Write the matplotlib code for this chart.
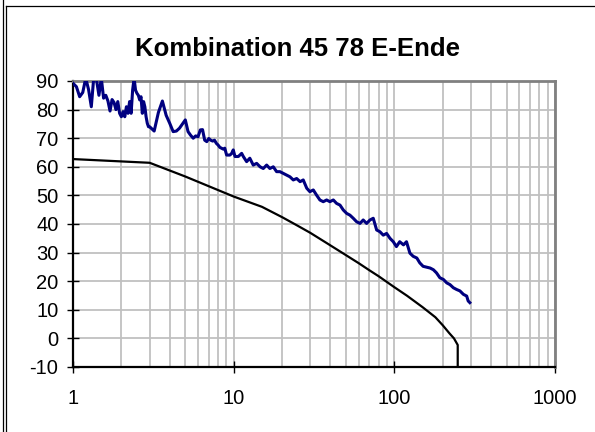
import matplotlib
matplotlib.use("Agg")
import matplotlib.pyplot as plt
from matplotlib.lines import Line2D
from matplotlib.ticker import LogLocator, NullFormatter, FixedLocator

plt.rcParams['font.family'] = ['Liberation Sans', 'DejaVu Sans']
plt.rcParams['axes.unicode_minus'] = False

# measured trace (Messung)
meas_x = [1.00, 1.05, 1.10, 1.15, 1.20, 1.25, 1.30, 1.35, 1.40, 1.45,
          1.50, 1.55, 1.60, 1.65, 1.70, 1.75, 1.80, 1.85, 1.90, 1.95,
          2.00, 2.05, 2.10, 2.15, 2.20, 2.25, 2.30, 2.35, 2.40, 2.45,
          2.50, 2.55, 2.60, 2.65, 2.70, 2.75, 2.80, 2.85, 2.90, 2.95,
          3.00, 3.2, 3.4, 3.6, 3.8, 4.0, 4.2, 4.4, 4.6, 4.8,
          5.0, 5.2, 5.4, 5.6, 5.8, 6.0, 6.2, 6.4, 6.6, 6.8,
          7.0, 7.2, 7.4, 7.6, 7.8, 8.0, 8.2, 8.4, 8.6, 8.8,
          9.04, 9.48, 9.72, 9.94, 10.19, 10.69, 11.21, 11.48, 12.04, 12.6,
          13.24, 13.90, 14.6, 15.28, 16.04, 16.8, 17.64, 18.5, 19.4, 20.35,
          21.37, 22.4, 23.5, 24.66, 25.9, 27.1, 28.5, 29.8, 31.3, 32.8,
          34.4, 36.1, 37.9, 39.7, 41.7, 43.7, 45.9, 48.1, 50.5, 52.9,
          55.5, 58.2, 61.1, 64.0, 67.2, 70.5, 73.9, 77.6, 81.3, 85.3,
          89.5, 93.9, 98.5, 103, 108, 114, 119, 125, 131, 138,
          144, 151, 167, 175, 183, 192, 202, 212, 222, 233,
          244, 256, 269, 282, 288, 295]
meas_y = [89.2, 88.0, 84.5, 86.0, 91.0, 87.0, 81.0, 92.0, 90.5, 85.0,
          91.0, 84.0, 85.0, 83.0, 79.5, 83.5, 82.5, 80.0, 82.8, 78.7,
          77.5, 79.3, 77.5, 81.0, 78.7, 82.8, 78.7, 86.8, 91.0, 86.8,
          85.7, 85.0, 83.4, 84.5, 78.7, 82.8, 81.0, 77.5, 75.2, 74.0,
          74.0, 72.5, 79.0, 83.0, 78.0, 75.2, 72.3, 72.5, 73.5, 75.0,
          76.4, 72.3, 71.0, 70.0, 70.8, 70.5, 72.9, 73.0, 69.3, 68.8,
          69.9, 69.3, 69.0, 69.3, 68.2, 67.6, 66.8, 66.5, 66.2, 66.5,
          64.1, 64.1, 64.7, 65.9, 63.6, 63.6, 64.7, 63.6, 61.8, 63.0,
          60.6, 61.2, 60.0, 59.4, 60.6, 59.4, 60.0, 58.3, 58.3, 57.7,
          57.1, 56.5, 55.4, 55.9, 54.8, 55.4, 52.5, 51.3, 51.9, 50.1,
          48.4, 47.8, 48.4, 47.8, 48.4, 47.2, 46.6, 44.9, 43.7, 43.1,
          42.0, 40.8, 40.2, 41.4, 40.2, 41.4, 42.0, 37.9, 37.3, 36.1,
          36.7, 35.0, 33.8, 32.1, 33.8, 32.7, 33.8, 29.8, 28.7, 28.1,
          26.4, 25.2, 24.6, 24.0, 22.9, 21.2, 20.6, 19.4, 18.8, 17.7,
          17.1, 16.6, 15.4, 14.8, 13.1, 12.5]

# limit curve (Grenzkurve)
limit_x = [1, 3, 5, 10, 15, 20, 25, 30, 38, 50, 60, 70, 80, 100, 120,
           150, 180, 200, 220, 235, 248, 248]
limit_y = [62.7, 61.4, 56.6, 49.6, 46.0, 42.4, 39.4, 36.9, 33.3, 29.1,
           26.3, 23.8, 21.7, 17.9, 14.9, 10.9, 7.4, 4.6, 1.8, 0.0,
           -2.3, -10]

y_ticks = [-10, 0, 10, 20, 30, 40, 50, 60, 70, 80, 90]
x_ticks = [1, 10, 100, 1000]

fig = plt.figure(figsize=(5.95, 4.32), dpi=100)
ax = fig.add_axes([0.1227, 0.1505, 0.8101, 0.662])

ax.set_xscale('log')
ax.set_xlim(1, 1000)
ax.set_ylim(-10, 90)

ax.plot(meas_x, meas_y, color='#000080', lw=2.2, zorder=3)
ax.plot(limit_x, limit_y, color='black', lw=1.6, zorder=4)

ax.xaxis.set_major_locator(FixedLocator(x_ticks))
ax.xaxis.set_minor_locator(LogLocator(base=10, subs=range(2, 10)))
ax.xaxis.set_minor_formatter(NullFormatter())
ax.set_xticklabels([str(v) for v in x_ticks])
ax.set_yticks(y_ticks)

ax.grid(True, which='major', color='#c0c0c0', lw=1.3)
ax.grid(True, which='minor', axis='x', color='#c0c0c0', lw=1.3)
ax.set_axisbelow(True)

ax.tick_params(axis='both', which='major', direction='inout', length=9,
               width=1, color='black', labelsize=14.5)
ax.tick_params(axis='x', which='major', pad=11)
ax.tick_params(axis='y', which='major', pad=6)
ax.tick_params(axis='x', which='minor', length=0)

for side in ('left', 'bottom'):
    ax.spines[side].set_color('black')
    ax.spines[side].set_linewidth(1.6)
for side in ('top', 'right'):
    ax.spines[side].set_color('#808080')
    ax.spines[side].set_linewidth(2)

fig.text(0.5, 0.887, 'Kombination 45 78 E-Ende', ha='center', va='center',
         fontsize=18.5, fontweight='bold')

# frame around the chart area
fig.add_artist(Line2D([2.7 / 595, 2.7 / 595], [0, 1], color='black', lw=0.9))
fig.add_artist(Line2D([5.7 / 595, 5.7 / 595], [0, 1 - 6 / 432], color='black', lw=0.9))
fig.add_artist(Line2D([5.7 / 595, 1], [1 - 6 / 432, 1 - 6 / 432], color='black', lw=0.9))

fig.savefig('out.png', dpi=100)
